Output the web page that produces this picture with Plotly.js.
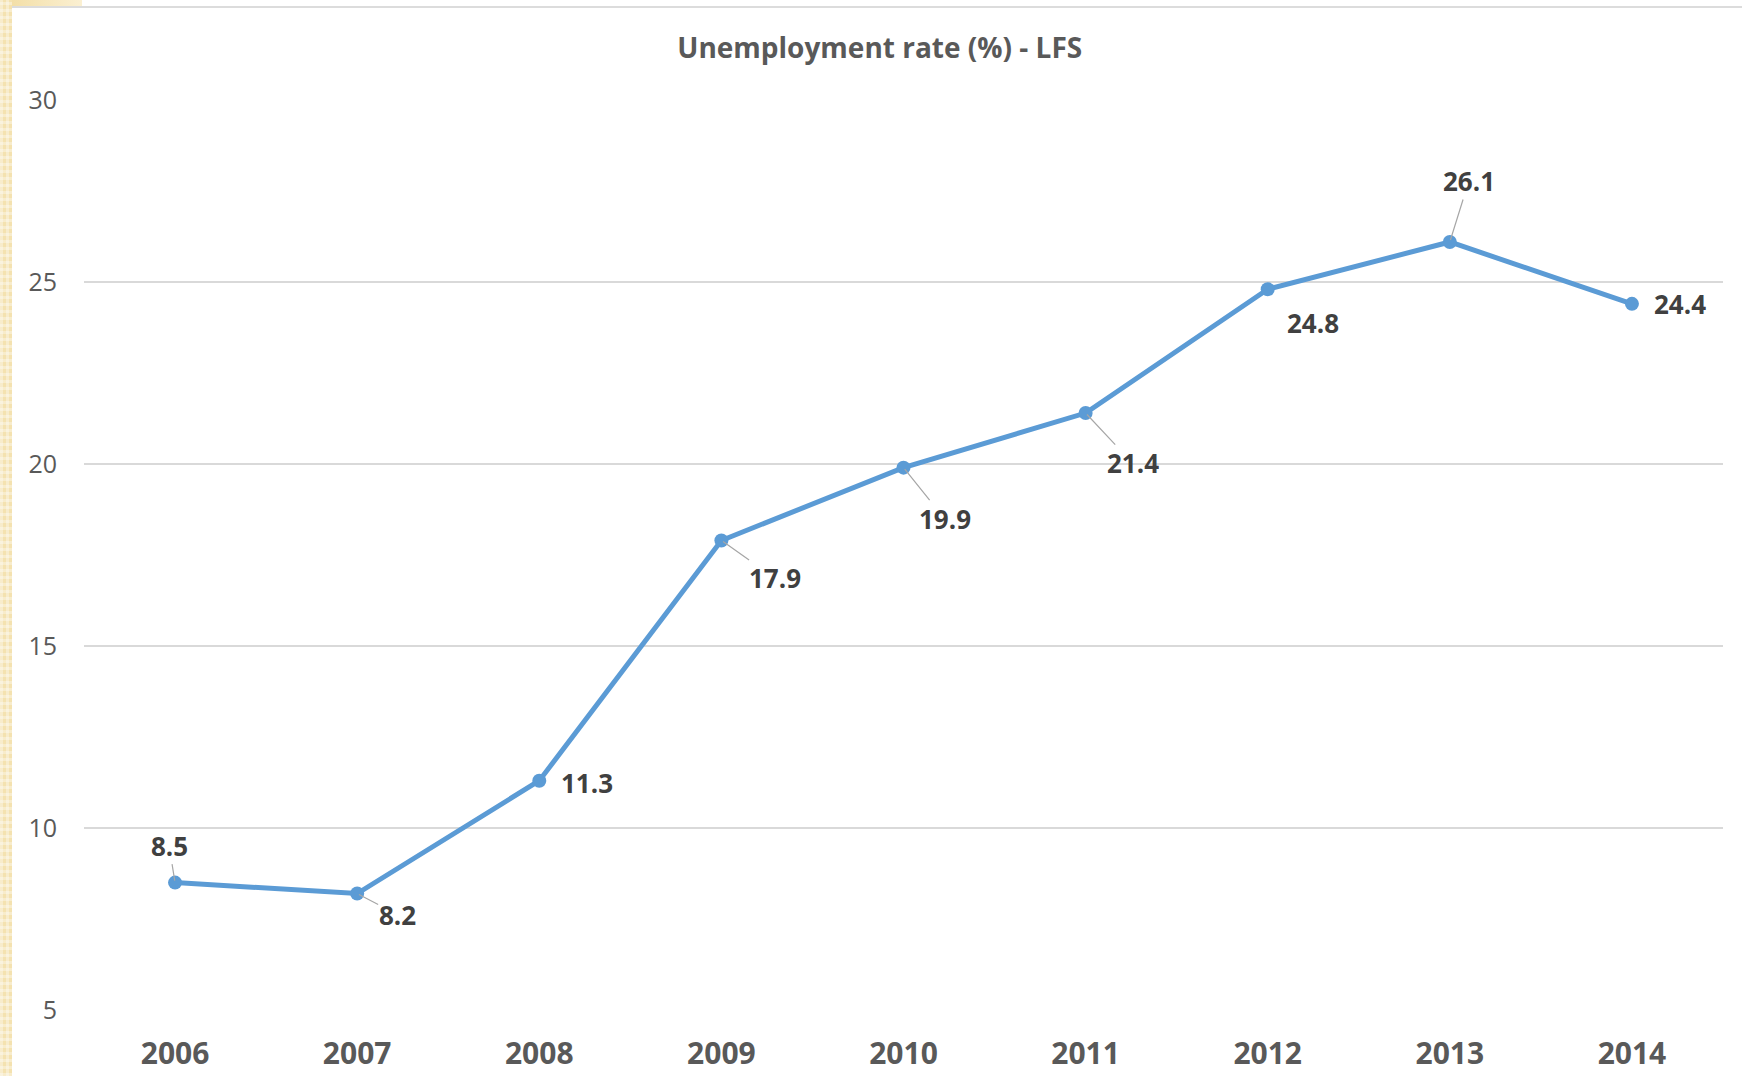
<!DOCTYPE html>
<html>
<head>
<meta charset="utf-8">
<script src="https://cdn.plot.ly/plotly-3.0.1.min.js"></script>
<style>
  html, body { margin: 0; padding: 0; background: #ffffff; width: 1742px; height: 1076px; overflow: hidden; }
  #strip { position: absolute; left: 0; top: 0; width: 12px; height: 1076px;
    background-color: #f4e2b0;
    background-image: repeating-linear-gradient(0deg, rgba(255,255,255,0.35) 0px, rgba(255,255,255,0.35) 3px, transparent 3px, transparent 7px),
                      repeating-linear-gradient(90deg, rgba(255,255,255,0.35) 0px, rgba(255,255,255,0.35) 3px, transparent 3px, transparent 6px); }
  #corner { position: absolute; left: 12px; top: 0; width: 70px; height: 7px; background: linear-gradient(90deg, #f3dfa8, #fbf0d2); }
  #topline { position: absolute; left: 12px; top: 6px; width: 1730px; height: 2px; background: #dcdcdc; }
  #chart { position: absolute; left: 0; top: 0; width: 1742px; height: 1076px; }
</style>
</head>
<body>
<div id="strip"></div>
<div id="corner"></div>
<div id="topline"></div>
<div id="chart"></div>
<script>
const years = ['2006', '2007', '2008', '2009', '2010', '2011', '2012', '2013', '2014'];
const rates = [8.5, 8.2, 11.3, 17.9, 19.9, 21.4, 24.8, 26.1, 24.4];
const yTicks = [5, 10, 15, 20, 25, 30];

// label placement (pixel offsets from each point) and whether a leader line is drawn
const labelDx = [-6, 40, 48, 54, 41, 47, 45, 19, 48];
const labelDy = [-37, 21, 2, 38, 51, 50, 34, -61, 0];
const leader = [true, true, false, true, true, true, false, true, false];

const labelFont = { family: 'Open Sans, Noto Sans, sans-serif', size: 26, color: '#404040' };

const annotations = years.map((yr, i) => {
  const base = {
    x: i, y: rates[i], xref: 'x', yref: 'y',
    text: '<b>' + rates[i].toFixed(1) + '</b>',
    font: labelFont, borderpad: 0
  };
  if (leader[i]) {
    return Object.assign(base, {
      showarrow: true, arrowhead: 0, arrowwidth: 1.2, arrowcolor: '#a6a6a6',
      ax: labelDx[i], ay: labelDy[i], standoff: 2
    });
  }
  return Object.assign(base, { showarrow: false, xshift: labelDx[i], yshift: -labelDy[i] });
});

const trace = {
  type: 'scatter', mode: 'lines+markers',
  x: years, y: rates,
  line: { color: '#5b9bd5', width: 5 },
  marker: { color: '#5b9bd5', size: 14 },
  hoverinfo: 'skip'
};

const layout = {
  width: 1742, height: 1076,
  paper_bgcolor: 'rgba(0,0,0,0)', plot_bgcolor: 'rgba(0,0,0,0)',
  margin: { l: 84, r: 19, t: 100, b: 66 },
  showlegend: false,
  title: {
    text: '<b>Unemployment rate (%) - LFS</b>',
    font: { family: 'Open Sans, Noto Sans, sans-serif', size: 28, color: '#595959' },
    x: 0.505, xanchor: 'center', y: 0.955, yanchor: 'middle', yref: 'container'
  },
  xaxis: {
    type: 'category', range: [-0.5, 8.5],
    showgrid: false, zeroline: false, showline: false, ticks: '',
    tickfont: { family: 'Open Sans, Noto Sans, sans-serif', size: 30, color: '#595959', weight: 700 },
    ticklabelstandoff: 23
  },
  yaxis: {
    range: [5, 30], tickvals: yTicks, ticktext: yTicks.map(String),
    showgrid: true, gridcolor: '#d9d9d9', gridwidth: 1.5, zeroline: false, showline: false, ticks: '',
    tickfont: { family: 'Open Sans, Noto Sans, sans-serif', size: 25, color: '#595959' },
    ticklabelstandoff: 26
  },
  annotations: annotations
};

Plotly.newPlot('chart', [trace], layout, { staticPlot: true, displayModeBar: false });
</script>
</body>
</html>
